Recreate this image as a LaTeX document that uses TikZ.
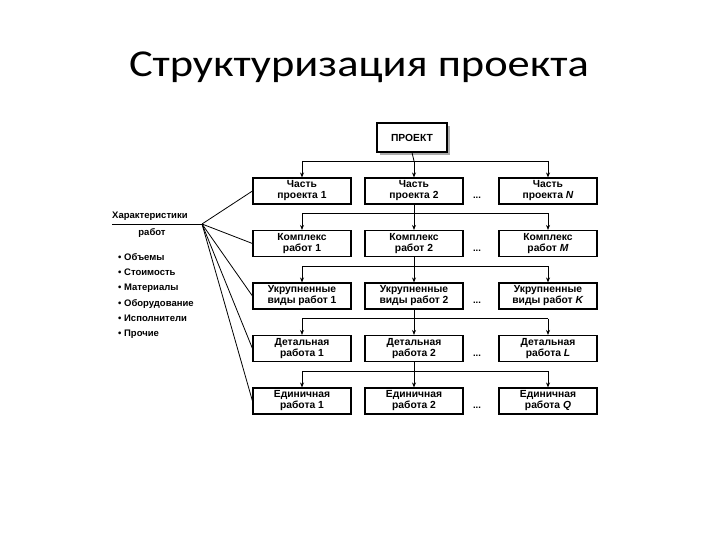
\documentclass[tikz,border=0pt]{standalone}
\usepackage{fontspec}
\setmainfont{Liberation Sans}
\newfontfamily\titlefont{Carlito}
\usetikzlibrary{arrows.meta,calc}
\tikzset{%
         work/.style = { draw, line width=1.1pt, fill=white, minimum width=98pt, minimum height=26pt,
                         inner sep=1pt, align=center, font=\fontsize{10.3}{11}\selectfont\bfseries },
         link/.style = { line width=0.8pt },
          arr/.style = { link, -{Stealth[length=5pt,width=4pt]} },
          fan/.style = { line width=0.8pt },
         dots/.style = { font=\fontsize{9.5}{9.5}\selectfont\bfseries },
     itemtext/.style = { anchor=base west, inner sep=0pt, font=\fontsize{9.5}{10}\selectfont\bfseries }
}

\begin{document}
\begin{tikzpicture}[x=1pt,y=-1pt]
  \useasboundingbox (0,0) rectangle (720,540);

  \node[xscale=1.17] (title) at (359,67) {\titlefont\fontsize{38}{44}\selectfont Структуризация проекта};

  % top box with its shadow
  \fill[gray!65] (380,126.5) rectangle (450,155.5);
  \node[work, minimum width=70pt, minimum height=29pt] (proj) at (412,137.5) {ПРОЕКТ};

  % levels of the structure
  \foreach \first/\second/\last [count=\r] in {Часть/проекта/N, Комплекс/работ/M,
      Укрупненные/виды работ/K, Детальная/работа/L, Единичная/работа/Q} {
    \pgfmathsetmacro\ry{191+52.5*(\r-1)}
    \node[work] (a\r) at (302,\ry) {\first\\\second~1};
    \node[work] (b\r) at (414,\ry) {\first\\\second~2};
    \node[work] (c\r) at (548,\ry) {\first\\\second~\textit{\last}};
    \node[dots] (d\r) at (477,\ry+7) {...};
    \coordinate (bus\r) at (414,\ry-30);
  }

  % connectors between levels
  \draw[link] (proj.south) -- (bus1);
  \foreach \r [evaluate=\r as \p using int(\r-1)] in {2,...,5}
    \draw[link] (b\p.south) -- (bus\r);
  \foreach \r in {1,...,5} {
    \draw[link] (bus\r -| a\r) -- (bus\r -| c\r);
    \foreach \c in {a,b,c}
      \draw[arr] (bus\r -| \c\r) -- (\c\r.north);
  }

  % characteristics
  \node[itemtext] (chr) at (112,218.5) {Характеристики};
  \coordinate (rule) at (112,224);
  \coordinate (hub) at (202,224);
  \draw[link] (rule) -- (hub);
  \node[itemtext, anchor=base] (wrk) at (152,236) {работ};
  \foreach \txt [count=\i] in {Объемы, Стоимость, Материалы, Оборудование, Исполнители, Прочие}
    \node[itemtext] (it\i) at (118,{260.5+15.2*(\i-1)}) {•\ \txt};
  \foreach \r in {1,...,5}
    \draw[fan] (hub) -- (a\r.west);

\end{tikzpicture}
\end{document}
